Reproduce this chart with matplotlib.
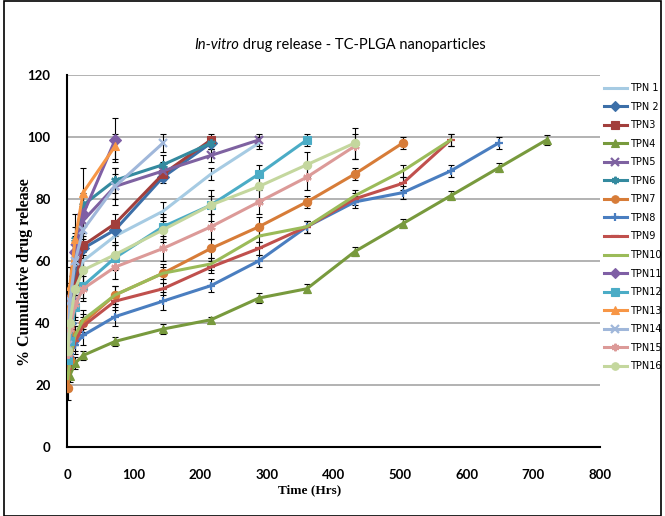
import matplotlib
matplotlib.use("Agg")
import matplotlib.pyplot as plt
from matplotlib.patches import Rectangle

# sampling times (hours) shared by all formulations
times = [1, 4, 12, 24, 72, 144, 216, 288, 360, 432, 504, 576, 648, 720]

labels = ["TPN 1", "TPN 2", "TPN3", "TPN4", "TPN5", "TPN6", "TPN7", "TPN8",
          "TPN9", "TPN10", "TPN11", "TPN12", "TPN13", "TPN14", "TPN15", "TPN16"]

tpn1 = [28, 42, 52, 60, 68, 76, 88, 98]
tpn2 = [29, 40, 55, 64, 70, 87, 98]
tpn3 = [27, 38, 52, 65, 72, 88, 99]
tpn4 = [20, 23, 27, 29.5, 34, 38, 41, 48, 51, 63, 72, 81, 90, 99]
tpn5 = [30, 45, 64, 73, 84, 89, 94, 99]
tpn6 = [32, 48, 67, 78, 86, 91, 98]
tpn7 = [19, 28, 36, 40, 49, 56, 64, 71, 79, 88, 98]
tpn8 = [28, 30, 33, 36, 42, 47, 52, 60, 71, 79, 82, 89, 98]
tpn9 = [25, 29, 34, 39, 47, 51, 58, 64, 71, 80, 85, 99]
tpn10 = [22, 28, 36, 41, 49, 56, 59, 68, 71, 81, 89, 99]
tpn11 = [35, 48, 63, 75, 99]
tpn12 = [28, 34, 45, 52, 61, 71, 78, 88, 99]
tpn13 = [40, 52, 67, 82, 97]
tpn14 = [33, 47, 60, 70, 84, 98]
tpn15 = [30, 38, 46, 51, 58, 64, 71, 79, 87, 97]
tpn16 = [31, 40, 51, 57, 62, 70, 78, 84, 91, 98]

# standard deviations
err1 = [2, 2, 3, 3, 3, 3, 2, 2]
err2 = [2, 3, 3, 3, 2, 2, 2]
err3 = [2, 3, 3, 3, 3, 2, 2]
err4 = [2, 2, 2, 1.5, 1.5, 1.5, 1, 1.5, 1.5, 1.5, 1.5, 1.5, 1.5, 1.5]
err5 = [3, 3, 4, 4, 4, 3, 2, 2]
err6 = [3, 4, 4, 4, 4, 3, 2]
err7 = [4, 3, 3, 3, 3, 3, 3, 3, 2, 2, 2]
err8 = [3, 3, 3, 3, 3, 3, 2, 2, 2, 2, 2, 2, 2]
err9 = [3, 3, 3, 3, 3, 2, 2, 2, 2, 2, 2, 2]
err10 = [3, 3, 3, 3, 3, 2, 2, 2, 2, 2, 2, 2]
err11 = [4, 5, 6, 6, 7]
err12 = [3, 3, 4, 4, 4, 4, 3, 3, 2]
err13 = [5, 6, 8, 8, 4]
err14 = [3, 4, 5, 5, 6, 3]
err15 = [3, 3, 4, 4, 4, 4, 4, 4, 4, 4]
err16 = [3, 3, 4, 4, 4, 4, 5, 5, 4, 5]

series = [tpn1, tpn2, tpn3, tpn4, tpn5, tpn6, tpn7, tpn8,
          tpn9, tpn10, tpn11, tpn12, tpn13, tpn14, tpn15, tpn16]
errors = [err1, err2, err3, err4, err5, err6, err7, err8,
          err9, err10, err11, err12, err13, err14, err15, err16]

colors = ["#A6CBE3", "#3C6FA8", "#A23F3C", "#789A3D", "#7E62A1", "#348A9F",
          "#D77C38", "#4A7EC0", "#C0504D", "#9BBB59", "#7F5FA5", "#4BACC6",
          "#F79646", "#A0B7DA", "#DC9A98", "#C4D79E"]
asterisk = (6, 2, 0)
markers = [None, "D", "s", "^", "x", asterisk, "o", "+",
           "_", None, "D", "s", "^", "x", asterisk, "o"]

fig = plt.figure(figsize=(6.65, 5.16), dpi=100)
ax = fig.add_axes([0.101, 0.134, 0.801, 0.721])

for vals, errs, lab, col, mk in zip(series, errors, labels, colors, markers):
    t = times[:len(vals)]
    ax.errorbar(t, vals, yerr=errs, fmt="none", ecolor="black",
                elinewidth=0.8, capsize=2.5, capthick=0.8, zorder=2)
    ax.plot(t, vals, color=col, lw=2.2, marker=mk, markersize=6,
            markeredgewidth=1.6 if mk in ("x", "+", "_", asterisk) else 0.8,
            markeredgecolor=col, label=lab, zorder=3)

ax.set_xlim(0, 800)
ax.set_ylim(0, 120)
ax.set_xticks(range(0, 801, 100))
ax.set_yticks(range(0, 121, 20))
ax.grid(axis="y", color="#A6A6A6", lw=1.2)
ax.set_axisbelow(True)
for s in ("top", "right"):
    ax.spines[s].set_visible(False)
for s in ("left", "bottom"):
    ax.spines[s].set_color("black")
    ax.spines[s].set_linewidth(1.5)
ax.tick_params(length=0, labelsize=9.5)
ax.tick_params(axis="x", pad=16)
ax.tick_params(axis="y", pad=12)
for lbl in ax.get_xticklabels() + ax.get_yticklabels():
    lbl.set_fontfamily("Lato")
    lbl.set_fontweight("bold")

ax.set_xlabel("Time (Hrs)", family="Liberation Serif", fontweight="bold",
              fontsize=9.5)
ax.xaxis.set_label_coords(0.456, -0.1)
ax.set_ylabel("% Cumulative drug release", family="Liberation Serif",
              fontweight="bold", fontsize=11.5)
ax.yaxis.set_label_coords(-0.064, 0.47)

t1 = fig.text(0.292, 0.905, "In-vitro", family="Lato", style="italic",
              fontsize=10.5, ha="left", va="baseline")
ax.annotate(" drug release - TC-PLGA nanoparticles", xy=(1, 0), xycoords=t1,
            family="Lato", fontsize=10.5, ha="left", va="bottom")

leg = fig.legend(loc="upper left", bbox_to_anchor=(0.905, 0.843), frameon=False,
                 fontsize=7, handlelength=2.4, handletextpad=0.35,
                 labelspacing=0.88, markerscale=0.9, borderaxespad=0,
                 borderpad=0.2)
for txt in leg.get_texts():
    txt.set_fontfamily("Liberation Sans Narrow")

fig.patches.append(Rectangle((0.006, 0.0), 0.988, 0.998, transform=fig.transFigure,
                             fill=False, edgecolor="black", lw=1.2))

fig.savefig("out.png", dpi=100)
